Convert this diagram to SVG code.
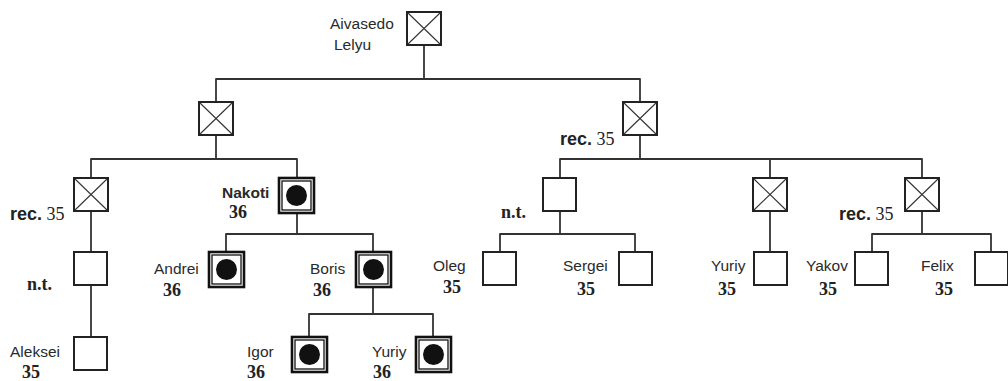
<svg xmlns="http://www.w3.org/2000/svg" width="1008" height="381" viewBox="0 0 1008 381">
<style>
.bg{fill:#fff}
.box{fill:#fff;stroke:#222;stroke-width:2}
.x{stroke:#333;stroke-width:1.1;fill:none}
.aff{fill:#fff;stroke:#111;stroke-width:2.6}
.affi{fill:none;stroke:#111;stroke-width:1.3}
.dot{fill:#111}
.con{fill:none;stroke:#333;stroke-width:1.8;stroke-linejoin:round}
.nm{font-family:"Liberation Sans",Arial,sans-serif;font-size:15.5px;fill:#2a2a2a}
.num{font-family:"Liberation Serif","Times New Roman",serif;font-size:18px;font-weight:bold;fill:#222}
.rec{font-family:"Liberation Sans",Arial,sans-serif;font-size:18px;font-weight:bold;fill:#222}
.recn{font-family:"Liberation Serif","Times New Roman",serif;font-size:18px;fill:#222}
.nt{font-family:"Liberation Serif","Times New Roman",serif;font-size:18px;font-weight:bold;fill:#222}
</style>
<defs>
<g id="crossed"><rect class="box" x="0" y="0" width="34" height="33"/><path class="x" d="M1,1L33,32M33,1L1,32"/></g>
<g id="affected"><rect class="aff" x="0" y="0" width="35" height="35"/><rect class="affi" x="3" y="3" width="29" height="29"/><circle class="dot" cx="17.5" cy="17.5" r="10.5"/></g>
<g id="plain"><rect class="box" x="0" y="0" width="33" height="33"/></g>
</defs>
<rect class="bg" x="0" y="0" width="1008" height="381"/>
<g id="connectors">
<path class="con" d="M424,44V79M216,102V79H640V102"/>
<path class="con" d="M216,135V159M91,178V159H297V178"/>
<path class="con" d="M640,135V159M560,178V159H922V178M770,159V178"/>
<path class="con" d="M91,211V252M91,285V337"/>
<path class="con" d="M297,213V234M226,252V234H373V252"/>
<path class="con" d="M373,287V314M309,337V314H433V337"/>
<path class="con" d="M560,211V234M500,252V234H635V252"/>
<path class="con" d="M770,211V252"/>
<path class="con" d="M922,211V234M872,252V234H991V252"/>
</g>
<g id="n-aivasedo"><use href="#crossed" x="407" y="12"/><text class="nm" x="330" y="29">Aivasedo</text><text class="nm" x="334" y="50">Lelyu</text></g>
<g id="n-g2left"><use href="#crossed" x="199" y="102"/></g>
<g id="n-g2right"><use href="#crossed" x="623" y="102"/><text x="560" y="145"><tspan class="rec">rec.</tspan><tspan class="recn"> 35</tspan></text></g>
<g id="n-g3left"><use href="#crossed" x="74" y="178"/><text x="10" y="220"><tspan class="rec">rec.</tspan><tspan class="recn"> 35</tspan></text></g>
<g id="n-nakoti"><use href="#affected" x="279" y="178"/><text class="nm" x="222" y="198" font-weight="bold">Nakoti</text><text class="num" x="229" y="218">36</text></g>
<g id="n-ntright"><use href="#plain" x="543" y="178"/><text class="nt" x="501" y="218">n.t.</text></g>
<g id="n-midcross"><use href="#crossed" x="753" y="178"/></g>
<g id="n-rightcross"><use href="#crossed" x="905" y="178"/><text x="839" y="220"><tspan class="rec">rec.</tspan><tspan class="recn"> 35</tspan></text></g>
<g id="n-ntleft"><use href="#plain" x="74" y="252"/><text class="nt" x="27" y="290">n.t.</text></g>
<g id="n-andrei"><use href="#affected" x="209" y="252"/><text class="nm" x="154" y="274">Andrei</text><text class="num" x="163" y="296">36</text></g>
<g id="n-boris"><use href="#affected" x="356" y="252"/><text class="nm" x="310" y="274">Boris</text><text class="num" x="313" y="296">36</text></g>
<g id="n-oleg"><use href="#plain" x="483" y="252"/><text class="nm" x="433" y="271">Oleg</text><text class="num" x="443" y="293">35</text></g>
<g id="n-sergei"><use href="#plain" x="619" y="252"/><text class="nm" x="563" y="271">Sergei</text><text class="num" x="577" y="295">35</text></g>
<g id="n-yuriy35"><use href="#plain" x="754" y="252"/><text class="nm" x="711" y="271">Yuriy</text><text class="num" x="718" y="295">35</text></g>
<g id="n-yakov"><use href="#plain" x="855" y="252"/><text class="nm" x="806" y="271">Yakov</text><text class="num" x="819" y="295">35</text></g>
<g id="n-felix"><use href="#plain" x="975" y="252"/><text class="nm" x="921" y="271">Felix</text><text class="num" x="935" y="295">35</text></g>
<g id="n-igor"><use href="#affected" x="292" y="337"/><text class="nm" x="247" y="357">Igor</text><text class="num" x="247" y="378">36</text></g>
<g id="n-yuriy36"><use href="#affected" x="416" y="337"/><text class="nm" x="372" y="357">Yuriy</text><text class="num" x="373" y="378">36</text></g>
<g id="n-aleksei"><use href="#plain" x="74" y="337"/><text class="nm" x="10" y="357">Aleksei</text><text class="num" x="22" y="378">35</text></g>
</svg>
